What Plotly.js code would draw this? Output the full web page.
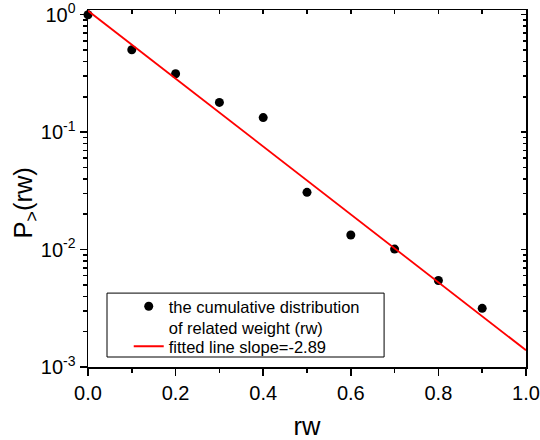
<!DOCTYPE html>
<html><head><meta charset="utf-8">
<script src="https://cdn.plot.ly/plotly-3.0.1.min.js"></script>
<style>html,body{margin:0;padding:0;background:#fff}</style>
</head><body><div id="chart" style="width:540px;height:440px"></div>
<script>
const rw = [0, 0.1, 0.2, 0.3, 0.4, 0.5, 0.6, 0.7, 0.8, 0.9];
const cumDist = [1.0, 0.503, 0.314, 0.179, 0.133, 0.0307, 0.0133, 0.0101, 0.00545, 0.00316];
const fitX = [0, 1];
const fitY = [1.08, 0.00139];
const xTickVals = [0, 0.2, 0.4, 0.6, 0.8, 1.0];
const xTickText = ['0.0', '0.2', '0.4', '0.6', '0.8', '1.0'];
const yTickVals = [1, 0.1, 0.01, 0.001];
const yTickText = ['10<sup>0</sup>', '10<sup>-1</sup>', '10<sup>-2</sup>', '10<sup>-3</sup>'];
const seriesNames = ['the cumulative distribution<br>of related weight (rw)', 'fitted line slope=-2.89'];
const xTitle = 'rw';
const yTitle = 'P<sub>&gt;</sub>(rw)';

const FONT = 'Arial, "Liberation Sans", sans-serif';
const traces = [
  {x: rw, y: cumDist, type: 'scatter', mode: 'markers', name: seriesNames[0],
   marker: {color: '#000', size: 9}, cliponaxis: false, legend: 'legend'},
  {x: fitX, y: fitY, type: 'scatter', mode: 'lines', name: seriesNames[1],
   line: {color: '#ff0000', width: 1.8}, legend: 'legend2'},
  {x: [], y: [], xaxis: 'x2', yaxis: 'y2', showlegend: false, hoverinfo: 'skip'}
];
const yRange = [-3, 0.04];
const legendFont = {family: FONT, size: 16.5, color: '#000'};
const layout = {
  width: 540, height: 440,
  margin: {l: 88, r: 14, t: 10, b: 73},
  paper_bgcolor: '#fff', plot_bgcolor: '#fff',
  font: {family: FONT, color: '#000', size: 20},
  showlegend: true,
  legend: {x: 0.093, y: 0.2185, xanchor: 'left', yanchor: 'top',
    borderwidth: 0, bgcolor: 'rgba(0,0,0,0)', font: legendFont, valign: 'top'},
  legend2: {x: 0.093, y: 0.1064, xanchor: 'left', yanchor: 'top',
    borderwidth: 0, bgcolor: 'rgba(0,0,0,0)', font: legendFont, valign: 'top'},
  shapes: [{type: 'rect', xref: 'paper', yref: 'paper', x0: 0.0434, x1: 0.676, y0: 0.028, y1: 0.207,
    line: {color: '#000', width: 1}, fillcolor: 'rgba(0,0,0,0)', layer: 'above'}],
  annotations: [{text: yTitle, xref: 'paper', yref: 'paper', x: -0.143, y: 0.459,
    xanchor: 'center', yanchor: 'middle', textangle: -90, showarrow: false,
    font: {family: FONT, size: 25.5, color: '#000'}}],
  xaxis: {range: [0, 1], showgrid: false, zeroline: false, showline: true,
    linecolor: '#000', linewidth: 1.5, ticks: 'outside', ticklen: 7, tickwidth: 1.5,
    tickcolor: '#000', tickmode: 'array', tickvals: xTickVals, ticktext: xTickText,
    tickfont: {size: 20}, ticklabeloverflow: 'allow',
    minor: {dtick: 0.1, tick0: 0, ticks: 'outside', ticklen: 4, tickwidth: 1.5, tickcolor: '#000', showgrid: false},
    title: {text: xTitle, font: {size: 25.5}, standoff: 18}},
  yaxis: {type: 'log', range: yRange, showgrid: false, zeroline: false, showline: true,
    linecolor: '#000', linewidth: 1.5, ticks: 'outside', ticklen: 7, tickwidth: 1.5,
    tickcolor: '#000', tickmode: 'array', tickvals: yTickVals, ticktext: yTickText,
    tickfont: {size: 20},
    minor: {dtick: 'D1', ticks: 'outside', ticklen: 4, tickwidth: 1.5, tickcolor: '#000', showgrid: false}},
  xaxis2: {overlaying: 'x', side: 'top', anchor: 'y', range: [0, 1], showgrid: false,
    zeroline: false, showline: true, linecolor: '#000', linewidth: 1.5,
    ticks: 'inside', ticklen: 4, tickwidth: 1.5, tickcolor: '#000', showticklabels: false,
    tickmode: 'array', tickvals: xTickVals,
    minor: {dtick: 0.1, tick0: 0, ticks: 'inside', ticklen: 4, tickwidth: 1.5, tickcolor: '#000', showgrid: false}},
  yaxis2: {overlaying: 'y', side: 'right', anchor: 'x', type: 'log', range: yRange,
    showgrid: false, zeroline: false, showline: true, linecolor: '#000', linewidth: 1.5,
    ticks: 'inside', ticklen: 5, tickwidth: 1.5, tickcolor: '#000', showticklabels: false,
    tickmode: 'array', tickvals: yTickVals,
    minor: {dtick: 'D1', ticks: 'inside', ticklen: 3, tickwidth: 1.5, tickcolor: '#000', showgrid: false}}
};
Plotly.newPlot('chart', traces, layout, {displayModeBar: false, staticPlot: true});
</script></body></html>
